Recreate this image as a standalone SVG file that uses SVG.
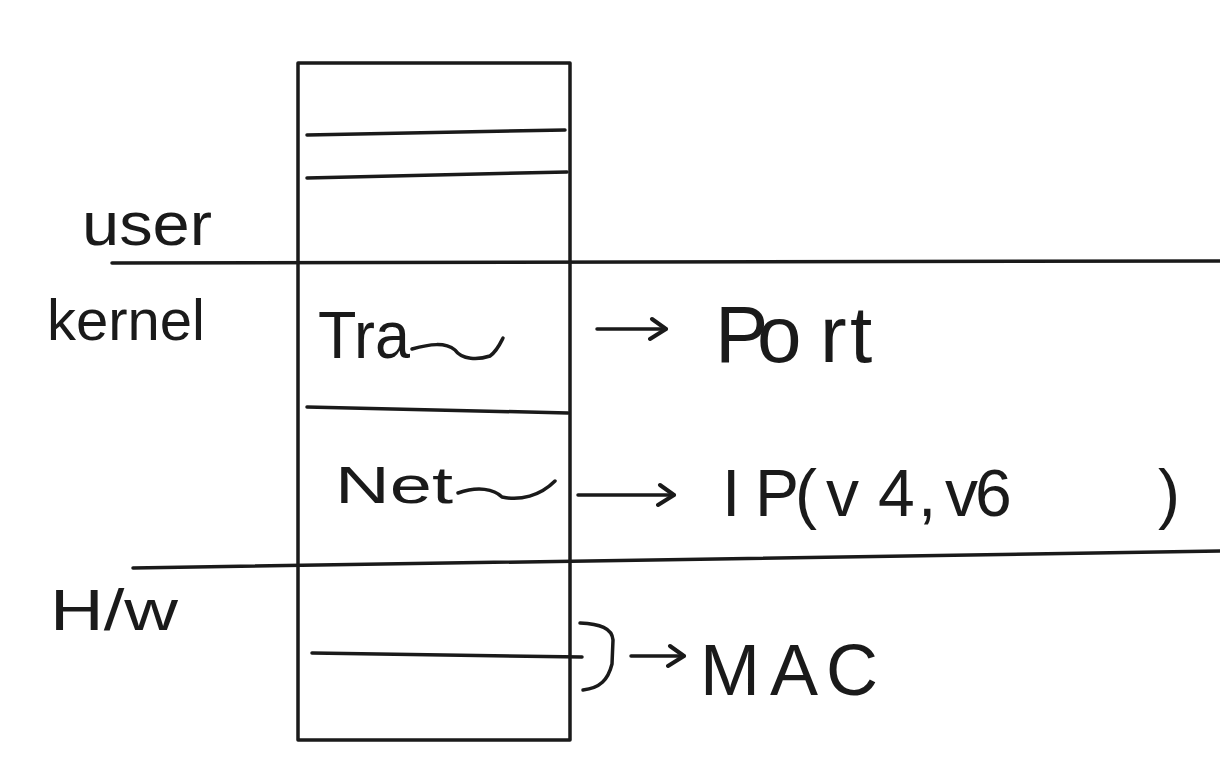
<svg xmlns="http://www.w3.org/2000/svg" width="1220" height="774" viewBox="0 0 1220 774">
<style>
.s{fill:none;stroke:#1a1a1a;stroke-width:3.5;stroke-linecap:round;stroke-linejoin:round}
.t{font-family:"Liberation Sans","DejaVu Sans",sans-serif;fill:#1a1a1a}
</style>
<defs>
<marker id="ah" markerUnits="userSpaceOnUse" markerWidth="26" markerHeight="28" refX="18" refY="13" orient="auto">
<path d="M4,3 L18,13 L2,23" fill="none" stroke="#1a1a1a" stroke-width="4" stroke-linecap="round" stroke-linejoin="round"/>
</marker>
</defs>
<rect width="1220" height="774" fill="#fff"/>
<g id="boundaries">
<path class="s" d="M112,263 L1220,261"/>
<path class="s" d="M133,568 L1220,551"/>
</g>
<g id="stack">
<rect class="s" x="298" y="63" width="272" height="677"/>
<path class="s" d="M307,135 L565,130"/>
<path class="s" d="M307,178 L567,172"/>
<path class="s" d="M307,407 L568,413"/>
<path class="s" d="M312,653 L582,657"/>
</g>
<g id="label-user"><text class="t" x="82" y="245" font-size="62" textLength="130" lengthAdjust="spacingAndGlyphs">user</text></g>
<g id="label-kernel"><text class="t" x="47" y="340" font-size="58" textLength="158" lengthAdjust="spacingAndGlyphs">kernel</text></g>
<g id="label-hw"><text class="t" x="50" y="630" font-size="58" textLength="128" lengthAdjust="spacingAndGlyphs">H/w</text></g>
<g id="layer-transport">
<text class="t" x="318" y="358" font-size="66" textLength="92" lengthAdjust="spacingAndGlyphs">Tra</text>
<path class="s" d="M412,349 C430,344 445,342 455,350 C462,360 478,360 490,356 C497,351 500,344 503,338"/>
</g>
<g id="layer-network">
<text class="t" x="335" y="503" font-size="52" textLength="118" lengthAdjust="spacingAndGlyphs">Net</text>
<path class="s" d="M458,493 C478,486 494,489 502,497 C520,501 540,496 555,481"/>
</g>
<g id="node-port"><text class="t" x="715 757 820 850" y="362" font-size="80">Port</text></g>
<g id="node-ip"><text class="t" x="722 755 795 826 878 918 945 975 1158" y="516" font-size="66">IP(v4,v6)</text></g>
<g id="node-mac"><text class="t" x="700 770 826" y="695" font-size="72">MAC</text></g>
<g id="connectors">
<path class="s" d="M597,329 L666,329" marker-end="url(#ah)"/>
<path class="s" d="M578,495 L674,495" marker-end="url(#ah)"/>
<path class="s" d="M580,623 C600,624 612,628 613,640 L612,664 C608,680 600,688 583,690"/>
<path class="s" d="M631,656 L684,656" marker-end="url(#ah)"/>
</g>
</svg>
